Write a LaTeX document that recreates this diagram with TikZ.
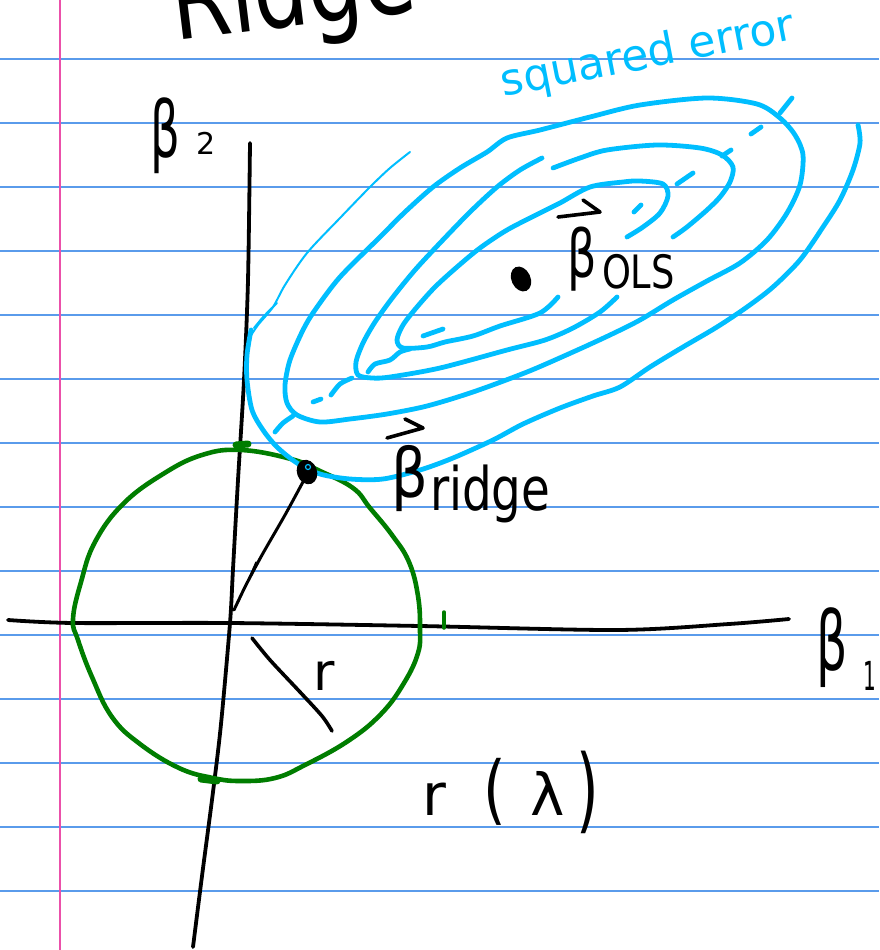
\documentclass[tikz,border=0pt]{standalone}
\usepackage{fontspec}
\setmainfont{DejaVu Sans}
\usepackage{graphicx}
\definecolor{paperline}{RGB}{90,155,235}
\definecolor{marginpink}{RGB}{235,80,170}
\definecolor{skyc}{RGB}{0,190,255}
\definecolor{dgreen}{RGB}{0,125,0}
\newcommand{\myfs}[1]{\fontsize{#1}{#1}\selectfont}
\tikzset{
  cyanthick/.style={draw=skyc, line width=4.8pt, line cap=round, line join=round},
  cyanthin/.style={draw=skyc, line width=2pt, line cap=round, line join=round},
  axisline/.style={draw=black, line width=3.8pt, line cap=round},
  inkline/.style={draw=black, line width=3.6pt, line cap=round, line join=round},
  greenline/.style={draw=dgreen, line width=4.6pt, line cap=round, line join=round},
  ink/.style={inner sep=0pt, outer sep=0pt, text=black},
}
\begin{document}
\begin{tikzpicture}[x=1pt,y=-1pt]
\useasboundingbox (0,0) rectangle (879,950);
\clip (0,0) rectangle (879,950);
\fill[white] (0,0) rectangle (879,950);
% paper
\foreach \k in {0,...,13} \draw[paperline, line width=1.8pt] (0,{59+64*\k}) -- (879,{59+64*\k});
\draw[marginpink, line width=1.8pt] (60,0) -- (60,950);
% axes
\draw[axisline] plot[smooth] coordinates {(8,620) (73,623) (230,623) (420,626) (617,630) (729,624) (789,619)};
\draw[axisline] plot[smooth] coordinates {(250,143) (248,280) (244,380) (238,480) (233,569) (230,623) (221,724) (213,792) (202,876) (193,947)};
% green constraint circle
\draw[greenline] plot[smooth cycle, tension=0.7] coordinates {(241,450) (291,459) (320,471) (353,488) (370,508) (392,535) (409,562) (418,596) (420,629) (418,653) (404,683) (381,714) (348,741) (305,765) (275,778) (241,781) (213,778) (179,768) (140,744) (112,717) (92,677) (78,640) (73,619) (81,582) (95,542) (123,504) (163,474) (202,455)};
\draw[dgreen, line width=7pt, line cap=round] (236,445) -- (248,444);
\draw[dgreen, line width=3.5pt, line cap=round] (444,612) -- (444,628);
\draw[dgreen, line width=7pt, line cap=round] (201,779) -- (217,781);
% cyan contours
\draw[cyanthin] plot[smooth] coordinates {(410,152) (390,168) (370,187) (340,218) (307,253) (285,285) (273,307) (258,325) (250,337)};
\draw[cyanthin] plot[smooth] coordinates {(277,303) (264,316) (254,328)};
\draw[cyanthick] plot[smooth] coordinates {(251,330) (247,355) (247,380) (252,410) (263,430) (277,447) (297,463) (320,474) (350,479) (383,479) (420,470) (453,458) (493,440) (523,424) (560,408) (593,396) (620,387) (650,367) (683,347) (717,327) (747,307) (773,287) (800,260) (823,227) (840,200) (853,170) (860,143) (858,125)};
\draw[cyanthick] plot[smooth cycle] coordinates {(540,130) (507,138) (487,152) (460,168) (433,187) (405,212) (380,237) (340,277) (315,310) (303,330) (290,360) (285,385) (287,403) (297,415) (320,422) (350,419) (387,414) (427,406) (473,392) (527,372) (573,352) (610,335) (640,320) (673,300) (707,281) (740,263) (767,240) (787,213) (800,185) (803,155) (795,135) (780,118) (757,104) (707,98) (640,105) (590,117)};
\draw[cyanthick] plot[smooth] coordinates {(542,158) (520,170) (497,187) (470,212) (440,243) (415,270) (393,297) (375,322) (363,343) (356,362) (358,375) (372,378) (390,377) (440,368) (507,350) (545,340) (573,328) (600,312) (617,297)};
\draw[cyanthick] plot[smooth] coordinates {(553,168) (580,158) (607,150) (657,145) (700,148) (722,155) (733,167) (730,182) (720,197) (707,210) (687,227) (673,237)};
\draw[cyanthick] plot[smooth] coordinates {(627,237) (643,227) (660,213) (668,196) (663,184) (640,181) (623,182) (590,187) (560,203) (540,213) (507,230) (480,248) (457,267) (435,287) (417,307) (403,325) (397,340) (403,348) (427,347) (445,342) (473,336) (500,326) (540,313) (558,297)};
% cyan dashes
\draw[cyanthick] (423,336) -- (443,329);
\draw[cyanthick] (634,212) -- (641,205);
\draw[cyanthick] (677,184) -- (693,173);
\draw[cyanthick] (722,156) -- (731,150);
\draw[cyanthick] (751,134) -- (761,127);
\draw[cyanthick] (780,113) -- (792,98);
\draw[cyanthick] (313,402) -- (321,399);
\draw[cyanthick] plot[smooth] coordinates {(331,395) (340,384) (352,378)};
\draw[cyanthick] plot[smooth] coordinates {(275,432) (283,423) (293,416)};
\draw[cyanthick] plot[smooth] coordinates {(368,372) (375,364) (390,360) (400,352) (410,349)};
% radius and points
\draw[inkline, line width=3pt] plot[smooth] coordinates {(304,480) (285,515) (262,555) (246,585) (234,610)};
\draw[black, line width=1.3pt, line cap=round] (256,562) -- (238,603);
\draw[inkline] plot[smooth] coordinates {(252,638) (270,660) (300,692) (322,716) (332,731)};
\fill[black, rotate around={20:(307,472)}] (307,472) ellipse (10 and 12.5);
\draw[skyc, line width=1.2pt] (308,467) circle (2.5);
\fill[black, rotate around={25:(521,279)}] (521,279) ellipse (9.5 and 13);
% vector arrows
\draw[inkline] (387,438) -- (423,428) -- (405,419);
\draw[inkline] (558,217) -- (600,212) -- (583,200);
% labels
\node[ink, anchor=base west, rotate=7, font=\myfs{110}] (title) at (175,41) {\scalebox{0.78}[1]{Ridge}};
\node[ink, anchor=base, rotate=11, text=skyc, font=\myfs{44}] (sqerr) at (650,68) {squared error};
\node[ink, anchor=base west, font=\myfs{78}] (b2) at (150,157) {\scalebox{0.6}[1]{β}};
\node[ink, anchor=base west, font=\myfs{30}] (b2s) at (196,154) {2};
\node[ink, anchor=base west, font=\myfs{82}] (b1) at (816,670) {\scalebox{0.6}[1]{β}};
\node[ink, anchor=base west, font=\myfs{40}] (b1s) at (863,690) {\scalebox{0.5}[1]{1}};
\node[ink, anchor=base west, font=\myfs{66}] (bols) at (567,277) {\scalebox{0.7}[1]{β}};
\node[ink, anchor=base west, font=\myfs{46}] (olss) at (602,288) {\scalebox{0.8}[1]{OLS}};
\node[ink, anchor=base west, font=\myfs{68}] (bridge) at (391,497) {\scalebox{0.85}[1]{β}};
\node[ink, anchor=base west, font=\myfs{60}] (ridges) at (430,510) {\scalebox{0.78}[1]{ridge}};
\node[ink, anchor=base west, font=\myfs{52}] (rr) at (313,690) {r};
\node[ink, anchor=base west, font=\myfs{58}] (rl) at (422,815) {r\hspace{38pt}\scalebox{1}[1.3]{(}\hspace{24pt}λ\hspace{12pt}\raisebox{-6pt}{\scalebox{1}[1.6]{)}}};
\end{tikzpicture}
\end{document}
